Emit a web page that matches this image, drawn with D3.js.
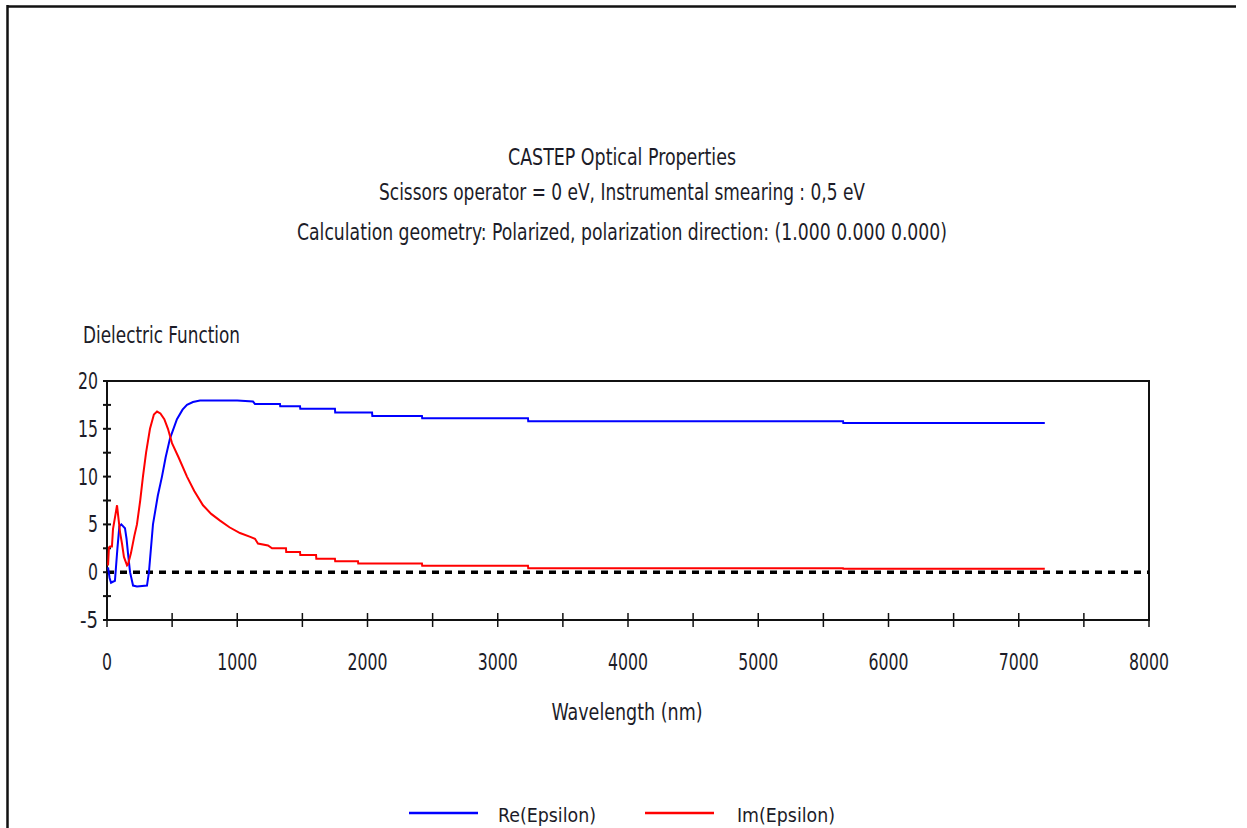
<!DOCTYPE html>
<html>
<head>
<meta charset="utf-8">
<script src="https://cdn.jsdelivr.net/npm/d3@7"></script>
<style>
  html, body { margin: 0; padding: 0; background: #fff; overflow: hidden; }
  svg { display: block; }
  text { font-family: "Liberation Sans Narrow", "DejaVu Sans Condensed", "Liberation Sans", sans-serif; fill: #1c1c28; }
</style>
</head>
<body>
<svg id="chart" width="1247" height="828"></svg>
<script>
// ---- data ----
const titleLines = [
  "CASTEP Optical Properties",
  "Scissors operator = 0 eV, Instrumental smearing : 0,5 eV",
  "Calculation geometry: Polarized, polarization direction: (1.000 0.000 0.000)"
];
const yAxisTitle = "Dielectric Function";
const xAxisTitle = "Wavelength (nm)";
const seriesNames = ["Re(Epsilon)", "Im(Epsilon)"];
const seriesColors = ["#0000ff", "#ff0000"];

const xTickValues = [0, 1000, 2000, 3000, 4000, 5000, 6000, 7000, 8000];
const xMinorTicks = [500, 1500, 2500, 3500, 4500, 5500, 6500, 7500];
const yTickValues = [-5, 0, 5, 10, 15, 20];
const yMinorTicks = [-2.5, 2.5, 7.5, 12.5, 17.5];

const reWavelength = [8, 20, 31, 45, 61, 80, 95, 110, 138, 150, 161, 177, 200, 230, 307, 322, 353, 390, 422, 450, 484, 537, 580, 614, 660, 714, 1000, 1121, 1136, 1328, 1330, 1482, 1484, 1750, 1752, 2035, 2037, 2418, 2420, 3232, 3234, 5651, 5653, 7200];
const reValues     = [0.5, -0.6, -1.1, -1.0, -0.9, 2.5, 4.8, 5.0, 4.6, 3.5, 2.0, 0.0, -1.4, -1.5, -1.4, 0.0, 5.0, 8.0, 10.0, 12.0, 14.0, 16.0, 17.0, 17.5, 17.8, 17.95, 17.95, 17.85, 17.6, 17.6, 17.35, 17.35, 17.1, 17.1, 16.7, 16.7, 16.35, 16.35, 16.1, 16.1, 15.8, 15.8, 15.6, 15.6];

const imWavelength = [8, 15, 23, 38, 46, 77, 85, 100, 115, 130, 146, 154, 161, 184, 210, 230, 255, 276, 300, 330, 360, 384, 410, 440, 468, 499, 550, 614, 670, 737, 800, 868, 940, 1021, 1100, 1136, 1159, 1236, 1267, 1374, 1376, 1482, 1484, 1605, 1607, 1750, 1752, 1927, 1929, 2418, 2420, 3232, 3234, 5651, 5653, 7200];
const imValues     = [0.7, 2.6, 2.7, 2.7, 4.5, 7.0, 6.0, 4.2, 3.0, 1.6, 1.0, 0.7, 0.8, 2.0, 3.8, 5.0, 7.5, 10.0, 12.5, 15.0, 16.5, 16.8, 16.6, 16.0, 15.0, 13.5, 12.0, 10.0, 8.5, 7.0, 6.1, 5.4, 4.7, 4.1, 3.7, 3.5, 3.0, 2.8, 2.5, 2.5, 2.1, 2.1, 1.8, 1.8, 1.4, 1.4, 1.15, 1.15, 0.9, 0.9, 0.68, 0.68, 0.42, 0.42, 0.35, 0.35];

// ---- layout ----
const svg = d3.select("#chart");
const plot = { left: 107, right: 1149, top: 381, bottom: 620 };

const x = d3.scaleLinear().domain([0, 8000]).range([plot.left, plot.right]);
const y = d3.scaleLinear().domain([-5, 20]).range([plot.bottom, plot.top]);

// width of a narrow label: ~10px per digit, ~8px for minus sign
const labelWidth = s => String(s).split("").reduce((a, c) => a + (c === "-" ? 8 : 10), 0);

// outer frame (top and left edges)
svg.append("line").attr("x1", 7).attr("x2", 1236).attr("y1", 6.5).attr("y2", 6.5)
  .attr("stroke", "#111").attr("stroke-width", 2.5);
svg.append("line").attr("x1", 7.5).attr("x2", 7.5).attr("y1", 5).attr("y2", 828)
  .attr("stroke", "#111").attr("stroke-width", 2.5);

// titles
const titleY = [157, 192, 232];
const titleW = [228, 486, 650];
titleLines.forEach((t, i) => {
  svg.append("text")
    .attr("x", 622).attr("y", titleY[i])
    .attr("text-anchor", "middle").attr("dominant-baseline", "central")
    .attr("font-size", 23)
    .attr("textLength", titleW[i]).attr("lengthAdjust", "spacingAndGlyphs")
    .text(t);
});

svg.append("text")
  .attr("x", 83).attr("y", 335)
  .attr("dominant-baseline", "central")
  .attr("font-size", 23)
  .attr("textLength", 157).attr("lengthAdjust", "spacingAndGlyphs")
  .text(yAxisTitle);

// plot frame
svg.append("rect")
  .attr("x", plot.left).attr("y", plot.top)
  .attr("width", plot.right - plot.left).attr("height", plot.bottom - plot.top)
  .attr("fill", "none").attr("stroke", "#111").attr("stroke-width", 2);

// x ticks (crossing the axis)
const xAll = xTickValues.concat(xMinorTicks);
svg.append("g").selectAll("line").data(xAll).join("line")
  .attr("x1", d => x(d)).attr("x2", d => x(d))
  .attr("y1", plot.bottom - 7).attr("y2", plot.bottom + 7)
  .attr("stroke", "#111").attr("stroke-width", 1.5);

svg.append("g").selectAll("text").data(xTickValues).join("text")
  .attr("x", d => x(d)).attr("y", 662)
  .attr("text-anchor", "middle").attr("dominant-baseline", "central")
  .attr("font-size", 23)
  .attr("textLength", d => labelWidth(d)).attr("lengthAdjust", "spacingAndGlyphs")
  .text(d => d3.format("d")(d));

// y ticks
const yAll = yTickValues.concat(yMinorTicks);
svg.append("g").selectAll("line").data(yAll).join("line")
  .attr("x1", plot.left - 4).attr("x2", plot.left + 4)
  .attr("y1", d => y(d)).attr("y2", d => y(d))
  .attr("stroke", "#111").attr("stroke-width", 2);

svg.append("g").selectAll("text").data(yTickValues).join("text")
  .attr("x", 98).attr("y", d => y(d))
  .attr("text-anchor", "end").attr("dominant-baseline", "central")
  .attr("font-size", 23)
  .attr("textLength", d => labelWidth(d)).attr("lengthAdjust", "spacingAndGlyphs")
  .text(d => d);

// zero dashed line
svg.append("line")
  .attr("x1", x(0)).attr("x2", x(8000))
  .attr("y1", y(0)).attr("y2", y(0))
  .attr("stroke", "#000").attr("stroke-width", 3.5)
  .attr("stroke-dasharray", "7,6");

// series
const line = d3.line().x(d => x(d[0])).y(d => y(d[1]));
const reData = reWavelength.map((w, i) => [w, reValues[i]]);
const imData = imWavelength.map((w, i) => [w, imValues[i]]);

svg.append("path").datum(reData).attr("d", line)
  .attr("fill", "none").attr("stroke", seriesColors[0]).attr("stroke-width", 2);
svg.append("path").datum(imData).attr("d", line)
  .attr("fill", "none").attr("stroke", seriesColors[1]).attr("stroke-width", 2);

// axis title
svg.append("text")
  .attr("x", 627).attr("y", 712)
  .attr("text-anchor", "middle").attr("dominant-baseline", "central")
  .attr("font-size", 23)
  .attr("textLength", 151).attr("lengthAdjust", "spacingAndGlyphs")
  .text(xAxisTitle);

// legend (kept just inside the bottom edge)
const legendX = [409, 645];
const legendTextX = [498, 737];
seriesNames.forEach((n, i) => {
  svg.append("line")
    .attr("x1", legendX[i]).attr("x2", legendX[i] + 69)
    .attr("y1", 813).attr("y2", 813)
    .attr("stroke", seriesColors[i]).attr("stroke-width", 2.5);
  svg.append("text")
    .attr("x", legendTextX[i]).attr("y", 822)
    .attr("font-size", 20)
    .attr("textLength", 98).attr("lengthAdjust", "spacingAndGlyphs")
    .text(n);
});
</script>
</body>
</html>
